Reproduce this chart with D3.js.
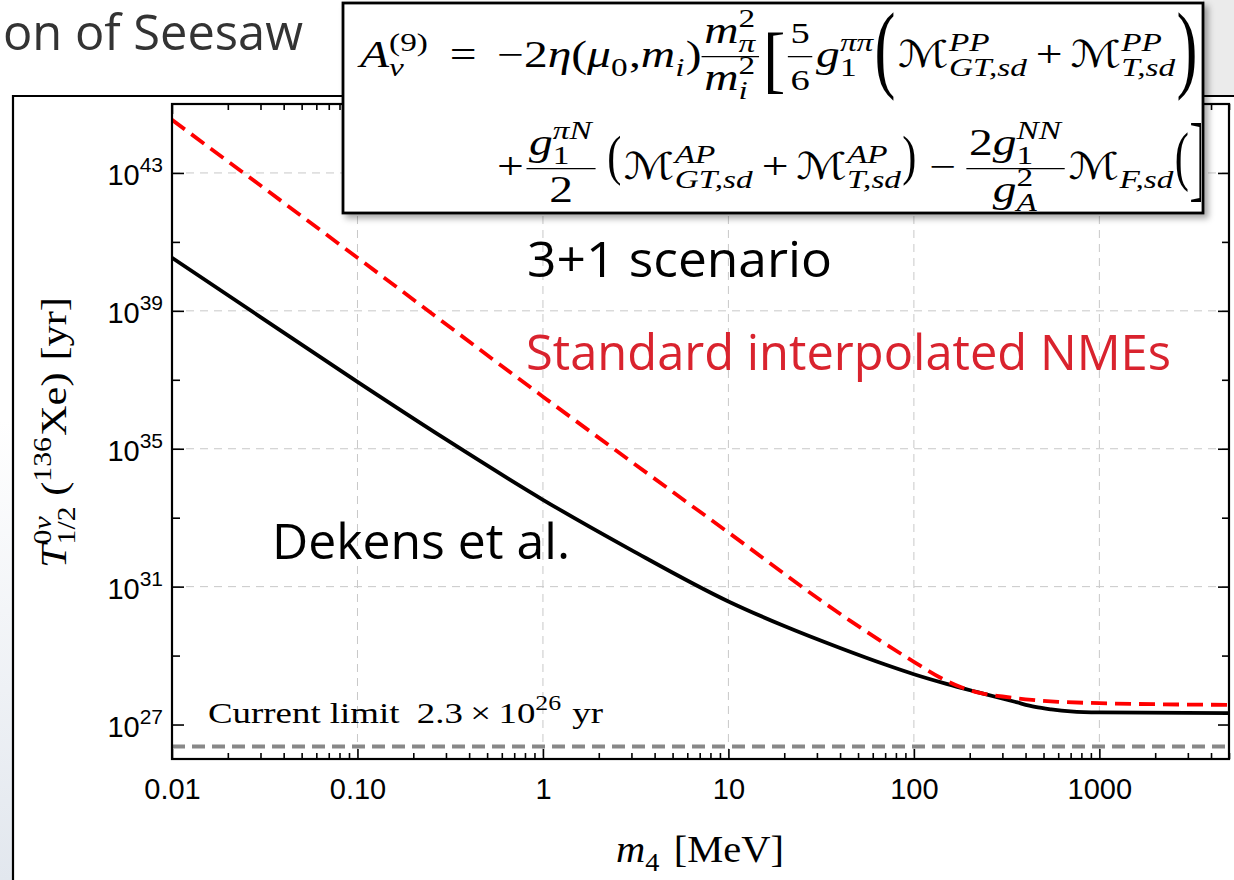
<!DOCTYPE html>
<html><head><meta charset="utf-8">
<script src="https://cdn.jsdelivr.net/npm/d3@7"></script>
<style>body{margin:0;background:#fff;} svg{display:block}</style>
</head><body>
<svg id="c" width="1234" height="880"></svg>
<script>
// ---------- data ----------
const dekensMass = [0.01, 0.03, 0.1, 0.3, 1, 3, 10, 20, 40, 70, 100, 150, 220, 350, 450, 550, 700, 1000, 5000];
const dekensT    = [3.47e40, 6.6e38, 8.7e36, 1.86e35, 3.31e33, 1.15e32, 3.72e30, 7.2e29, 1.66e29, 5.5e28, 2.88e28, 1.51e28, 8.7e27, 4.57e27, 3.24e27, 2.75e27, 2.40e27, 2.24e27, 2.14e27];
const standardMass = [0.01, 0.1, 1, 10, 45, 100, 140, 180, 230, 300, 400, 600, 1000, 5000];
const standardT    = [3.47e44, 3.47e40, 3.24e36, 3.72e32, 1.05e30, 6.6e28, 2.24e28, 1.20e28, 8.1e27, 6.5e27, 5.4e27, 4.57e27, 4.17e27, 3.72e27];
const currentLimit = 2.3e26;
const xMajor = [0.01, 0.1, 1, 10, 100, 1000];
const xTickLabels = ["0.01", "0.10", "1", "10", "100", "1000"];
const yLabeledExp = [27, 31, 35, 39, 43];
const yMinorExp = [29, 33, 37, 41];
const xGrid = [0.1, 1, 10, 100, 1000];
const yGridExp = [31, 35, 39, 43];

const SERIF = "'Liberation Serif', 'DejaVu Serif', serif";
const CAL = "'DejaVu Serif', 'DejaVu Sans', serif";
const SANS = "'Liberation Sans', Arial, sans-serif";
const SLIDE = "'Open Sans', 'Noto Sans', sans-serif";

const svg = d3.select('#c');
const defs = svg.append('defs');
const sh = defs.append('filter').attr('id','shadow').attr('x','-5%').attr('y','-5%').attr('width','115%').attr('height','125%');
sh.append('feDropShadow').attr('dx',4).attr('dy',4).attr('stdDeviation',3).attr('flood-color','#000').attr('flood-opacity',0.35);
const lg = defs.append('linearGradient').attr('id','lgrad').attr('x1',0).attr('y1',0).attr('x2',0).attr('y2',1);
lg.append('stop').attr('offset',0).attr('stop-color','#ffffff');
lg.append('stop').attr('offset',1).attr('stop-color','#e2e7ee');

// slide decorations
svg.append('rect').attr('x',1203).attr('y',0).attr('width',31).attr('height',96).attr('fill','#ebebeb');
svg.append('rect').attr('x',0).attr('y',420).attr('width',13).attr('height',460).attr('fill','url(#lgrad)');
svg.append('path').attr('d','M13,880 V96 H1240').attr('fill','none').attr('stroke','#000').attr('stroke-width',2.2);
svg.append('text').attr('x',3).attr('y',50).attr('font-family',SLIDE).attr('textLength',300).attr('lengthAdjust','spacingAndGlyphs')
  .attr('font-size',50).attr('fill','#333').text('on of Seesaw');

// ---------- scales ----------
const L = 172, R = 1229, T = 104, B = 759;
const x = d3.scaleLog().domain([0.01, 5000]).range([L, R]);
const y = d3.scaleLog().domain([1e26, 1e45]).range([B, T]);

const plot = svg.append('g');
defs.append('clipPath').attr('id','pc').append('rect').attr('x',L).attr('y',T).attr('width',R-L).attr('height',B-T);

// grid
plot.append('g').selectAll('line').data(xGrid).join('line')
  .attr('x1',d=>x(d)).attr('x2',d=>x(d)).attr('y1',T).attr('y2',B)
  .attr('stroke','#c8c8c8').attr('stroke-width',1).attr('stroke-dasharray','8,6');
plot.append('g').selectAll('line').data(yGridExp).join('line')
  .attr('x1',L).attr('x2',R).attr('y1',d=>y(Math.pow(10,d))).attr('y2',d=>y(Math.pow(10,d)))
  .attr('stroke','#c8c8c8').attr('stroke-width',1).attr('stroke-dasharray','8,6');

// current limit
plot.append('line').attr('x1',L).attr('x2',R).attr('y1',y(currentLimit)).attr('y2',y(currentLimit))
  .attr('stroke','#888').attr('stroke-width',4).attr('stroke-dasharray','13,7');

// curves
const line = d3.line().x(d=>x(d[0])).y(d=>y(d[1])).curve(d3.curveMonotoneX);
const cg = plot.append('g').attr('clip-path','url(#pc)');
cg.append('path').attr('d', line(d3.zip(dekensMass, dekensT))).attr('fill','none')
  .attr('stroke','#000').attr('stroke-width',3.8).attr('stroke-linejoin','round');
cg.append('path').attr('d', line(d3.zip(standardMass, standardT))).attr('fill','none')
  .attr('stroke','#ff0000').attr('stroke-width',3.8).attr('stroke-dasharray','16,8');

// axes
const minorX = x.ticks().filter(v => !xMajor.some(m => Math.abs(m - v) / m < 1e-6));
function styleAxis(g){ g.select('.domain').remove(); g.selectAll('line').attr('stroke','#000').attr('stroke-width',1.6); }
const axB = plot.append('g').attr('transform',`translate(0,${B})`)
  .call(d3.axisBottom(x).tickValues(xMajor).tickSize(-10).tickPadding(19)
        .tickFormat((d,i)=>xTickLabels[i])).call(styleAxis);
axB.selectAll('text').attr('font-family',SANS).attr('font-size',29).attr('fill','#000');
plot.append('g').attr('transform',`translate(0,${B})`)
  .call(d3.axisBottom(x).tickValues(minorX).tickSize(-6).tickFormat('')).call(styleAxis);
plot.append('g').attr('transform',`translate(0,${T})`)
  .call(d3.axisTop(x).tickValues(xMajor).tickSize(-10).tickFormat('')).call(styleAxis);
plot.append('g').attr('transform',`translate(0,${T})`)
  .call(d3.axisTop(x).tickValues(minorX).tickSize(-6).tickFormat('')).call(styleAxis);

const yLab = yLabeledExp.map(e => Math.pow(10,e));
const yMin = yMinorExp.map(e => Math.pow(10,e));
plot.append('g').attr('transform',`translate(${L},0)`)
  .call(d3.axisLeft(y).tickValues(yLab).tickSize(-12).tickFormat('')).call(styleAxis);
plot.append('g').attr('transform',`translate(${L},0)`)
  .call(d3.axisLeft(y).tickValues(yMin).tickSize(-8).tickFormat('')).call(styleAxis);
plot.append('g').attr('transform',`translate(${R},0)`)
  .call(d3.axisRight(y).tickValues(yLab).tickSize(-11).tickFormat('')).call(styleAxis);
plot.append('g').attr('transform',`translate(${R},0)`)
  .call(d3.axisRight(y).tickValues(yMin).tickSize(-7).tickFormat('')).call(styleAxis);
// y tick labels 10^n
const yl = plot.append('g').selectAll('text').data(yLabeledExp).join('text')
  .attr('x', L - 9).attr('y', d => y(Math.pow(10,d)) + 12).attr('text-anchor','end')
  .attr('font-family',SANS).attr('font-size',29).attr('fill','#000');
yl.append('tspan').text('10');
yl.append('tspan').attr('dy',-13).attr('font-size',21).text(d=>d);

// frame
plot.append('rect').attr('x',L).attr('y',T).attr('width',R-L).attr('height',B-T)
  .attr('fill','none').attr('stroke','#000').attr('stroke-width',2.2);

// ---------- math layout helper ----------
function txt(g, xx, yy, s, size, it, fam) {
  const t = g.append('text').attr('x',xx).attr('y',yy).attr('font-size',size)
    .attr('font-family', fam || SERIF).attr('font-style', it ? 'italic' : 'normal').attr('fill','#000').text(s);
  return t.node().getComputedTextLength();
}
function layout(g, items, xx, base, size) {
  for (const it of items) {
    if (it.sp != null) { xx += it.sp; continue; }
    if (it.s != null) { xx += txt(g, xx, base + (it.dy||0), it.s, it.size||size, it.it, it.fam); continue; }
    if (it.sup || it.sub) {
      const ss = it.size || size * 0.7;
      let w1 = 0, w2 = 0;
      if (it.sup) w1 = layout(g, it.sup, xx, base - size * 0.42, ss) - xx;
      if (it.sub) w2 = layout(g, it.sub, xx, base + size * 0.25, ss) - xx;
      xx += Math.max(w1, w2) + 1; continue;
    }
    if (it.frac) {
      const fs = it.size || size;
      const gn = g.append('g'), gd = g.append('g');
      const wn = layout(gn, it.frac.num, 0, base - size * 0.66, fs);
      const wd = layout(gd, it.frac.den, 0, base + size * 0.62, fs);
      const w = Math.max(wn, wd) + 4;
      gn.attr('transform', `translate(${xx + (w - wn) / 2},0)`);
      gd.attr('transform', `translate(${xx + (w - wd) / 2},0)`);
      g.append('line').attr('x1', xx).attr('x2', xx + w).attr('y1', base - size * 0.28).attr('y2', base - size * 0.28)
        .attr('stroke', '#000').attr('stroke-width', 1.3);
      xx += w + 3; continue;
    }
    if (it.big) {
      const fs = it.h / 0.91, sx = it.sx || 0.5;
      const t = g.append('text').attr('font-size', fs).attr('font-family', SERIF).text(it.big)
        .attr('transform', `translate(${xx},${it.top + fs * 0.69}) scale(${sx},1)`);
      xx += t.node().getComputedTextLength() * sx + 2; continue;
    }
  }
  return xx;
}

// ---------- formula box ----------
const BX = 343, BY = 3, BW = 860, BH = 210;
svg.append('rect').attr('x',BX).attr('y',BY).attr('width',BW).attr('height',BH)
  .attr('fill','#fff').attr('stroke','#000').attr('stroke-width',2.8).attr('filter','url(#shadow)');
defs.append('clipPath').attr('id','fc').append('rect').attr('x',BX+2).attr('y',BY+2).attr('width',BW-4).attr('height',BH-4);
const fOuter = svg.append('g').attr('clip-path','url(#fc)');
const fg = fOuter.append('g');
const F = 37, B1 = 67, B2 = 179, X0 = 360;
const line1a = [{s:'A',it:1},{sup:[{s:'(9)'}],sub:[{s:'ν',it:1}]},{sp:16},{s:'='},{sp:16}];
const line1b = [
  {s:'−2'},{s:'η',it:1},{s:'('},{s:'μ',it:1},{sub:[{s:'0'}]},{s:', '},{s:'m',it:1},{sub:[{s:'i',it:1}]},{s:')'},
  {frac:{num:[{s:'m',it:1},{sup:[{s:'2'}],sub:[{s:'π',it:1}]}], den:[{s:'m',it:1},{sup:[{s:'2'}],sub:[{s:'i',it:1}]}]}},
  {big:'[',h:68,top:32,sx:0.7},
  {frac:{num:[{s:'5'}],den:[{s:'6'}]},size:30},
  {s:'g',it:1},{sup:[{s:'ππ',it:1}],sub:[{s:'1'}]},
  {big:'(',h:89,top:13,sx:0.5},
  {s:'ℳ',fam:CAL},{sup:[{s:'PP',it:1}],sub:[{s:'GT,sd',it:1}]},{sp:6},{s:'+'},{sp:6},
  {s:'ℳ',fam:CAL},{sup:[{s:'PP',it:1}],sub:[{s:'T,sd',it:1}]},
  {big:')',h:89,top:13,sx:0.5}];
const line2 = [
  {s:'+'},{sp:2},
  {frac:{num:[{s:'g',it:1},{sup:[{s:'πN',it:1}],sub:[{s:'1'}]}], den:[{s:'2'}]}},
  {sp:6},{big:'(',h:50,top:136,sx:0.6},
  {s:'ℳ',fam:CAL},{sup:[{s:'AP',it:1}],sub:[{s:'GT,sd',it:1}]},{sp:6},{s:'+'},{sp:6},
  {s:'ℳ',fam:CAL},{sup:[{s:'AP',it:1}],sub:[{s:'T,sd',it:1}]},
  {big:')',h:50,top:136,sx:0.6},{sp:8},{s:'−'},{sp:8},
  {frac:{num:[{s:'2'},{s:'g',it:1},{sup:[{s:'NN',it:1}],sub:[{s:'1'}]}], den:[{s:'g',it:1},{sup:[{s:'2'}],sub:[{s:'A',it:1}]}]}},
  {s:'ℳ',fam:CAL},{sub:[{s:'F,sd',it:1}]},
  {big:'(',h:60,top:133,sx:0.5}];
const xAlign = layout(fg, line1a, X0, B1, F);
const xEnd1 = layout(fg, line1b, xAlign, B1, F);
layout(fg, line2, xAlign, B2, F);
const fs = (1200 - X0) / (xEnd1 - X0);
fg.attr('transform', `translate(${X0},0) scale(${fs},1) translate(${-X0},0)`);
layout(fOuter, [{big:']',h:87,top:123,sx:0.6}], 1189, B2, F);

// ---------- fit helper ----------
function fitGroup(g, x0, x1, w) { const s = (x1 - x0) / w; g.attr('transform', `translate(${x0},0) scale(${s},1)`); }

// y axis title
const yt = svg.append('g').attr('transform','translate(66,0) rotate(-90)');
const yti = yt.append('g');
const wy = layout(yti, [{s:'T',it:1},{sup:[{s:'0'},{s:'ν',it:1}],sub:[{s:'1/2'}]},{sp:8},{s:'('},{sup:[{s:'136'}]},{s:'Xe)'},{sp:10},{s:'[yr]'}], 0, 0, 36);
yti.attr('transform', `translate(${-568},0) scale(${271/wy},1)`);

// x axis title
const xt = svg.append('g'); const xti = xt.append('g');
const wx = layout(xti, [{s:'m',it:1},{sub:[{s:'4'}]},{sp:12},{s:'[MeV]'}], 0, 862, 37);
fitGroup(xti, 616, 784, wx);

// current limit
const cl = svg.append('g'); const cli = cl.append('g');
const wc = layout(cli, [{s:'Current limit'},{sp:14},{s:'2.3'},{sp:6},{s:'×'},{sp:6},{s:'10'},{sup:[{s:'26'}]},{sp:8},{s:'yr'}], 0, 723, 30);
fitGroup(cli, 208, 603, wc);

// annotations
function label(xx, yy, s, w, col) {
  svg.append('text').attr('x',xx).attr('y',yy).attr('font-family',SLIDE).attr('font-size',49)
    .attr('textLength', w).attr('lengthAdjust','spacingAndGlyphs').attr('fill',col).text(s);
}
label(527, 277, '3+1 scenario', 305, '#000');
label(526, 370, 'Standard interpolated NMEs', 645, '#d9232e');
label(272, 559, 'Dekens et al.', 298, '#000');
</script>
</body></html>
